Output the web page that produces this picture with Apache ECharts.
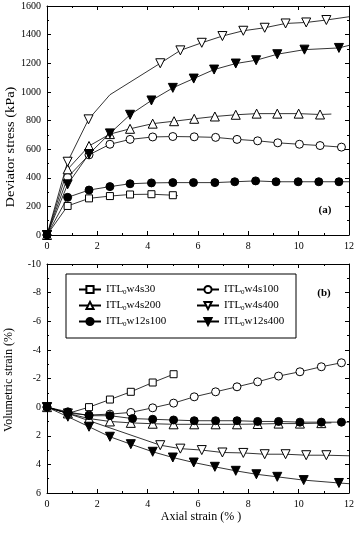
<!DOCTYPE html>
<html>
<head>
<meta charset="utf-8">
<script src="https://cdn.jsdelivr.net/npm/echarts@6/dist/echarts.min.js"></script>
<style>
  html, body { margin: 0; padding: 0; background: #fff; }
  #chart { width: 357px; height: 536px; }
</style>
</head>
<body>
<div id="chart"></div>
<script>
// tick labels
const strainTicks = [0, 2, 4, 6, 8, 10, 12]
const stressTicks = [0, 200, 400, 600, 800, 1000, 1200, 1400, 1600]
const volTicks = [-10, -8, -6, -4, -2, 0, 2, 4, 6]

// (a) deviator stress vs axial strain, [strain %, kPa]
const w4s30Stress = [[0, 0], [0.82, 203], [1.67, 256], [2.5, 272], [3.3, 283], [4.15, 285], [5.0, 278]]
const w4s30StressEnd = [[5.2, 275]]
const w4s100Stress = [[0, 0], [0.82, 403], [1.67, 560], [2.5, 634], [3.3, 668], [4.2, 685], [5.0, 688], [5.85, 686],
    [6.7, 682], [7.55, 668], [8.37, 658], [9.17, 644], [10.03, 634], [10.85, 625], [11.7, 614]]
const w4s200Stress = [[0, 0], [0.82, 459], [1.67, 622], [2.5, 705], [3.3, 742], [4.2, 778], [5.05, 795], [5.85, 812],
    [6.67, 828], [7.5, 840], [8.33, 848], [9.15, 848], [10.0, 848], [10.85, 842]]
const w4s200StressEnd = [[11.3, 845]]
const w4s400Stress = [[0, 0], [0.82, 512], [1.65, 808], [4.5, 1200], [5.3, 1290], [6.15, 1343], [6.97, 1390],
    [7.8, 1427], [8.65, 1448], [9.48, 1478], [10.3, 1485], [11.1, 1502]]
const w4s400StressEnd = [[2.5, 980], [12, 1525]]
const w12s100Stress = [[0, 0], [0.82, 263], [1.67, 314], [2.5, 338], [3.3, 358], [4.15, 364], [5.0, 366], [5.82, 366],
    [6.67, 366], [7.46, 372], [8.29, 378], [9.1, 372], [9.98, 372], [10.8, 372], [11.6, 372]]
const w12s100StressEnd = [[12, 372]]
const w12s400Stress = [[0, 0], [0.82, 354], [1.67, 566], [2.5, 710], [3.3, 840], [4.15, 940], [5.0, 1028], [5.83, 1093],
    [6.64, 1156], [7.5, 1198], [8.31, 1221], [9.15, 1263], [10.23, 1295], [11.6, 1307]]
const w12s400StressEnd = [[12, 1325]]

// (b) volumetric strain vs axial strain, [strain %, %]
const w4s30Vol = [[0, 0], [0.83, 0.44], [1.67, 0], [2.5, -0.53], [3.33, -1.07], [4.2, -1.72], [5.03, -2.3]]
const w4s100Vol = [[0, 0], [0.83, 0.42], [1.67, 0.55], [2.5, 0.49], [3.33, 0.37], [4.2, 0.05], [5.03, -0.28],
    [5.85, -0.72], [6.7, -1.07], [7.55, -1.42], [8.37, -1.77], [9.2, -2.17], [10.05, -2.47], [10.9, -2.82], [11.7, -3.1]]
const w4s200Vol = [[0, 0], [0.83, 0.44], [1.67, 0.8], [2.5, 1.0], [3.33, 1.1], [4.2, 1.16], [5.03, 1.2], [5.85, 1.2],
    [6.7, 1.2], [7.55, 1.2], [8.37, 1.18], [9.2, 1.15], [10.05, 1.15], [10.9, 1.12]]
const w4s200VolEnd = [[11.3, 1.1]]
const w4s400Vol = [[0, 0], [0.83, 0.44], [4.5, 2.66], [5.3, 2.9], [6.15, 3.0], [6.97, 3.17], [7.8, 3.2], [8.65, 3.29],
    [9.48, 3.29], [10.3, 3.36], [11.1, 3.36]]
const w4s400VolEnd = [[12, 3.4]]
const w12s100Vol = [[0, 0], [0.83, 0.33], [1.67, 0.6], [2.5, 0.6], [3.4, 0.8], [4.2, 0.85], [5.03, 0.9], [5.85, 0.95],
    [6.7, 0.95], [7.55, 0.95], [8.37, 1.0], [9.2, 1.0], [10.05, 1.05], [10.9, 1.05], [11.7, 1.05]]
const w12s100VolEnd = [[12, 1.05]]
const w12s400Vol = [[0, 0], [0.83, 0.67], [1.67, 1.37], [2.5, 2.07], [3.33, 2.59], [4.2, 3.12], [5.0, 3.52],
    [5.83, 3.87], [6.67, 4.17], [7.5, 4.45], [8.32, 4.69], [9.15, 4.87], [10.2, 5.1], [11.6, 5.3]]
const w12s400VolEnd = [[12, 5.35]]

const FONT = '"Liberation Serif", "DejaVu Serif", serif'

// marker style per specimen
const specimens = [
    { name: 'ITL0w4s30', symbol: 'rect', size: 7, fill: '#fff', a: [w4s30Stress, w4s30StressEnd], b: [w4s30Vol, []] },
    { name: 'ITL0w4s100', symbol: 'circle', size: 8, fill: '#fff', a: [w4s100Stress, []], b: [w4s100Vol, []] },
    { name: 'ITL0w4s200', symbol: 'triangle', size: 9, fill: '#fff', a: [w4s200Stress, w4s200StressEnd], b: [w4s200Vol, w4s200VolEnd] },
    { name: 'ITL0w4s400', symbol: 'triangle', rotate: 180, size: 9, fill: '#fff', a: [w4s400Stress, w4s400StressEnd], b: [w4s400Vol, w4s400VolEnd] },
    { name: 'ITL0w12s100', symbol: 'circle', size: 8, fill: '#000', a: [w12s100Stress, w12s100StressEnd], b: [w12s100Vol, w12s100VolEnd] },
    { name: 'ITL0w12s400', symbol: 'triangle', rotate: 180, size: 9, fill: '#000', a: [w12s400Stress, w12s400StressEnd], b: [w12s400Vol, w12s400VolEnd] }
]

// markers + line-only points, sorted on strain
const buildData = (marks, lineOnly) => {
    const pts = marks.map(p => ({ value: p }))
        .concat(lineOnly.map(p => ({ value: p, symbol: 'none' })))
    return pts.sort((p, q) => p.value[0] - q.value[0])
}

const series = []
specimens.forEach(s => {
    ;[s.a, s.b].forEach((pair, i) => {
        series.push({
            name: s.name,
            type: 'line',
            xAxisIndex: i * 2,
            yAxisIndex: i * 2,
            data: buildData(pair[0], pair[1]),
            symbol: s.symbol,
            symbolSize: s.size,
            symbolRotate: s.rotate || 0,
            showAllSymbol: true,
            lineStyle: { color: '#000', width: 0.8 },
            itemStyle: { color: s.fill, borderColor: '#000', borderWidth: 1 },
            emphasis: { disabled: true },
            z: s.fill === '#000' ? 4 : 3
        })
    })
})

const tickStyle = { show: true, inside: true, length: 4, lineStyle: { color: '#000', width: 1 } }
const minorStyle = { show: true, splitNumber: 2, length: 2, lineStyle: { color: '#000', width: 1 } }
const lineStyle = { show: true, onZero: false, lineStyle: { color: '#000', width: 1 } }
// plain numbers, no thousands separator
const labelStyle = { color: '#000', fontFamily: FONT, fontSize: 10, margin: 6, formatter: v => String(v) }

const xAxisFor = (grid, pos, labels) => ({
    type: 'value', gridIndex: grid, position: pos,
    min: strainTicks[0], max: strainTicks[strainTicks.length - 1], interval: strainTicks[1] - strainTicks[0],
    axisLine: lineStyle, axisTick: tickStyle, minorTick: minorStyle,
    axisLabel: labels ? labelStyle : { show: false },
    splitLine: { show: false }
})
const yAxisFor = (grid, pos, labels, ticks, inverse) => ({
    type: 'value', gridIndex: grid, position: pos, inverse: inverse,
    min: ticks[0], max: ticks[ticks.length - 1], interval: ticks[1] - ticks[0],
    axisLine: lineStyle, axisTick: tickStyle, minorTick: minorStyle,
    axisLabel: labels ? labelStyle : { show: false },
    splitLine: { show: false }
})

const legendRich = {
    t: { fontFamily: FONT, fontSize: 11, color: '#000' },
    s: { fontFamily: FONT, fontSize: 7, color: '#000', padding: [6, 0, 0, 0] }
}
const legendFor = (left, names) => ({
    orient: 'vertical', left: left, top: 279, itemGap: 4,
    itemWidth: 22, itemHeight: 9, data: names, selectedMode: false,
    formatter: n => '{t|ITL}{s|0}{t|' + n.slice(4) + '}',
    textStyle: { rich: legendRich, padding: [0, 0, 0, 0] }
})

const option = {
    animation: false,
    backgroundColor: '#fff',
    grid: [
        { left: 47, top: 6, width: 303, height: 229 },
        { left: 47, top: 264, width: 303, height: 229 }
    ],
    xAxis: [
        xAxisFor(0, 'bottom', true), xAxisFor(0, 'top', false),
        xAxisFor(1, 'bottom', true), xAxisFor(1, 'top', false)
    ],
    yAxis: [
        yAxisFor(0, 'left', true, stressTicks, false), yAxisFor(0, 'right', false, stressTicks, false),
        yAxisFor(1, 'left', true, volTicks, true), yAxisFor(1, 'right', false, volTicks, true)
    ],
    legend: [
        legendFor(73, ['ITL0w4s30', 'ITL0w4s200', 'ITL0w12s100']),
        legendFor(191, ['ITL0w4s100', 'ITL0w4s400', 'ITL0w12s400'])
    ],
    graphic: [
        { type: 'rect', shape: { x: 66, y: 274, width: 230, height: 64 }, style: { fill: 'none', stroke: '#000', lineWidth: 1 }, z: 10 },
        { type: 'text', x: 325, y: 210, style: { text: '(a)', font: 'bold 11px ' + FONT, fill: '#000', textAlign: 'center', textVerticalAlign: 'middle' } },
        { type: 'text', x: 324, y: 293, style: { text: '(b)', font: 'bold 11px ' + FONT, fill: '#000', textAlign: 'center', textVerticalAlign: 'middle' } },
        { type: 'text', x: 11, y: 147, rotation: Math.PI / 2, scaleX: 1.2, style: { text: 'Deviator stress (kPa)', font: '12px ' + FONT, fill: '#000', textAlign: 'center', textVerticalAlign: 'middle' } },
        { type: 'text', x: 9, y: 380, rotation: Math.PI / 2, style: { text: 'Volumetric strain (%)', font: '12px ' + FONT, fill: '#000', textAlign: 'center', textVerticalAlign: 'middle' } },
        { type: 'text', x: 201, y: 517, style: { text: 'Axial strain (% )', font: '12px ' + FONT, fill: '#000', textAlign: 'center', textVerticalAlign: 'middle' } }
    ],
    series: series
}

const chart = echarts.init(document.getElementById('chart'))
chart.setOption(option)
</script>
</body>
</html>
